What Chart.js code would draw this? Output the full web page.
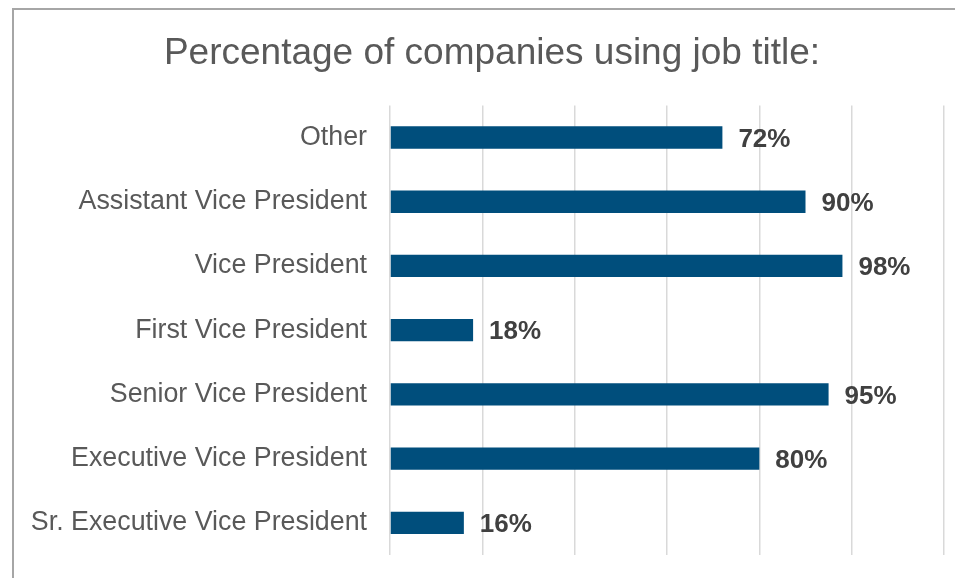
<!DOCTYPE html>
<html>
<head>
<meta charset="utf-8">
<script src="https://cdn.jsdelivr.net/npm/chart.js@4"></script>
<style>
  html, body { margin: 0; padding: 0; background: #ffffff; overflow: hidden; }
  #frame { position: absolute; left: 12px; top: 8px; width: 2000px; height: 2000px;
           border-left: 2px solid #a6a6a6; border-top: 2px solid #a6a6a6; }
  #wrap { position: absolute; left: 0; top: 0; width: 955px; height: 578px; }
</style>
</head>
<body>
<div id="frame"></div>
<div id="wrap"><canvas id="c" width="955" height="578"></canvas></div>
<script>
const titleText = 'Percentage of companies using job title:';
const categories = [
  'Other',
  'Assistant Vice President',
  'Vice President',
  'First Vice President',
  'Senior Vice President',
  'Executive Vice President',
  'Sr. Executive Vice President'
];
const percentages = [72, 90, 98, 18, 95, 80, 16];
const axisMin = 0;
const axisMax = 120;
const axisStep = 20;

const valueLabels = {
  id: 'valueLabels',
  afterLayout(chart) {
    // centre the title over the whole framed chart (frame spans 40..944)
    const t = chart.titleBlock;
    if (t) { t.left = 40; t.right = 944; t.width = 904; }
  },
  afterDatasetsDraw(chart) {
    const ctx = chart.ctx;
    const meta = chart.getDatasetMeta(0);
    ctx.save();
    ctx.font = 'bold 26px "Liberation Sans", Arial, sans-serif';
    ctx.fillStyle = '#404040';
    ctx.textAlign = 'left';
    ctx.textBaseline = 'middle';
    meta.data.forEach((bar, i) => {
      ctx.fillText(percentages[i] + '%', bar.x + 16, bar.y + 2);
    });
    ctx.restore();
  }
};

new Chart(document.getElementById('c'), {
  type: 'bar',
  data: {
    labels: categories,
    datasets: [{
      data: percentages,
      backgroundColor: '#004E7C',
      borderWidth: 0,
      categoryPercentage: 1,
      barPercentage: 0.347
    }]
  },
  options: {
    indexAxis: 'y',
    responsive: false,
    animation: false,
    devicePixelRatio: 1,
    layout: { padding: { left: 0, right: 11, top: 0, bottom: 23 } },
    plugins: {
      legend: { display: false },
      tooltip: { enabled: false },
      title: {
        display: true,
        text: titleText,
        color: '#595959',
        font: { family: '"Liberation Sans", Arial, sans-serif', size: 37, weight: 'normal' },
        padding: { top: 32, bottom: 29 }
      }
    },
    scales: {
      x: {
        min: axisMin,
        max: axisMax,
        ticks: { display: false, stepSize: axisStep },
        grid: { color: '#d9d9d9', lineWidth: 1.5, drawTicks: false },
        border: { display: false }
      },
      y: {
        ticks: {
          color: '#595959',
          padding: 23,
          font: { family: '"Liberation Sans", Arial, sans-serif', size: 26.8 }
        },
        grid: { display: false, drawTicks: false },
        border: { display: false },
        afterFit(scale) {
          scale.width = 390;
          scale.paddingTop = 0;
          scale.paddingBottom = 0;
        }
      }
    }
  },
  plugins: [valueLabels]
});
</script>
</body>
</html>
